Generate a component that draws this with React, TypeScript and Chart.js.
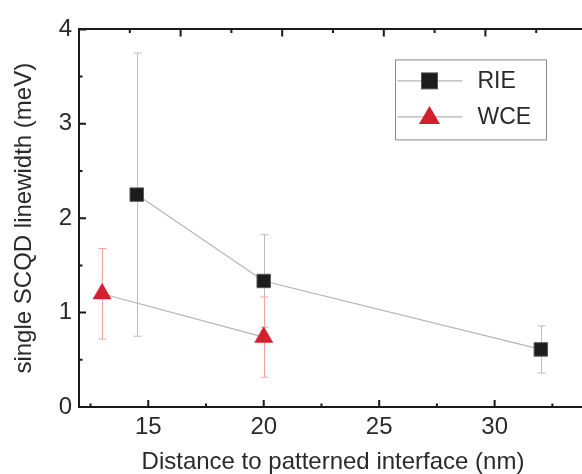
import React, { useEffect, useRef } from 'react';
import { Chart, registerables } from 'chart.js';
Chart.register(...registerables);

const seriesNames = ['RIE', 'WCE'];
const rieX = [14.5, 20, 32];
const rieY = [2.25, 1.335, 0.61];
const rieErr = [1.5, 0.49, 0.25];
const wceX = [13, 20];
const wceY = [1.2, 0.74];
const wceErr = [0.48, 0.425];
const xMajorTicks = [15, 20, 25, 30];
const xMinorTicks = [12.5, 17.5, 22.5, 27.5, 32.5];
const yMajorTicks = [0, 1, 2, 3, 4];
const yMinorTicks = [0.5, 1.5, 2.5, 3.5];
const topMajorTicks = [0, 2, 4, 6];
const topMinorTicks = [-1, 1, 3, 5, 7];
const xTitle = 'Distance to patterned interface (nm)';
const yTitle = 'single SCQD linewidth (meV)';

const FONT = "'Liberation Sans', Arial, sans-serif";
const TEXT = '#2a2a2a';
const AXIS = '#1a1a1a';
const RIE_FILL = '#1c1c1c';
const WCE_FILL = '#d3202e';
const LINE = '#b5b5b5';

const errorBars = {
  id: 'errorBars',
  beforeDatasetsDraw(chart: any) {
    const { ctx, scales } = chart;
    const x = scales.x, y = scales.y;
    const sets = [
      { xs: rieX, ys: rieY, es: rieErr, color: '#bdbdbd' },
      { xs: wceX, ys: wceY, es: wceErr, color: '#f2a697' },
    ];
    ctx.save();
    ctx.lineWidth = 1;
    for (const s of sets) {
      ctx.strokeStyle = s.color;
      s.xs.forEach((xv, i) => {
        const px = Math.round(x.getPixelForValue(xv)) + 0.5;
        const t = y.getPixelForValue(s.ys[i] + s.es[i]);
        const b = y.getPixelForValue(s.ys[i] - s.es[i]);
        ctx.beginPath();
        ctx.moveTo(px, t); ctx.lineTo(px, b);
        ctx.moveTo(px - 4, t); ctx.lineTo(px + 4, t);
        ctx.moveTo(px - 4, b); ctx.lineTo(px + 4, b);
        ctx.stroke();
      });
    }
    ctx.restore();
  },
};

const tickMarks = {
  id: 'tickMarks',
  afterDraw(chart: any) {
    const { ctx, scales, chartArea } = chart;
    const x = scales.x, y = scales.y, xt = scales.xTop;
    ctx.save();
    ctx.strokeStyle = AXIS;
    ctx.lineWidth = 2;
    ctx.beginPath();
    xMajorTicks.forEach(v => { const p = x.getPixelForValue(v); ctx.moveTo(p, chartArea.bottom); ctx.lineTo(p, chartArea.bottom - 7); });
    xMinorTicks.forEach(v => { const p = x.getPixelForValue(v); ctx.moveTo(p, chartArea.bottom); ctx.lineTo(p, chartArea.bottom - 3.5); });
    yMajorTicks.forEach(v => { const p = y.getPixelForValue(v); ctx.moveTo(chartArea.left, p); ctx.lineTo(chartArea.left + 7, p); });
    yMinorTicks.forEach(v => { const p = y.getPixelForValue(v); ctx.moveTo(chartArea.left, p); ctx.lineTo(chartArea.left + 3.5, p); });
    topMajorTicks.forEach(v => { const p = xt.getPixelForValue(v); ctx.moveTo(p, chartArea.top); ctx.lineTo(p, chartArea.top + 7); });
    topMinorTicks.forEach(v => { const p = xt.getPixelForValue(v); ctx.moveTo(p, chartArea.top); ctx.lineTo(p, chartArea.top + 3.5); });
    ctx.stroke();
    ctx.restore();
  },
};

const legendBox = {
  id: 'legendBox',
  afterDraw(chart: any) {
    const { ctx, chartArea } = chart;
    const bx = chartArea.left + 316.5, by = chartArea.top + 30.5, bw = 151, bh = 80;
    ctx.save();
    ctx.fillStyle = '#ffffff';
    ctx.fillRect(bx, by, bw, bh);
    ctx.strokeStyle = '#8a8a8a';
    ctx.lineWidth = 1;
    ctx.strokeRect(bx, by, bw, bh);
    const rows = [by + 21, by + 57];
    const mx = bx + 34;
    rows.forEach((ry, i) => {
      ctx.strokeStyle = LINE;
      ctx.lineWidth = 1.2;
      ctx.beginPath();
      ctx.moveTo(bx + 2, ry); ctx.lineTo(bx + 67, ry);
      ctx.stroke();
      if (i === 0) {
        ctx.fillStyle = RIE_FILL;
        ctx.fillRect(mx - 8, ry - 8, 16, 16);
        ctx.strokeStyle = '#555';
        ctx.lineWidth = 1;
        ctx.strokeRect(mx - 8, ry - 8, 16, 16);
      } else {
        ctx.fillStyle = WCE_FILL;
        ctx.beginPath();
        ctx.moveTo(mx, ry - 11);
        ctx.lineTo(mx + 10.5, ry + 7);
        ctx.lineTo(mx - 10.5, ry + 7);
        ctx.closePath();
        ctx.fill();
      }
      ctx.fillStyle = TEXT;
      ctx.font = `23px ${FONT}`;
      ctx.textBaseline = 'middle';
      ctx.textAlign = 'left';
      ctx.fillText(seriesNames[i], bx + 82, ry + 0.5);
    });
    ctx.restore();
  },
};

export default function App() {
  const ref = useRef<HTMLCanvasElement>(null);
  useEffect(() => {
    const chart = new Chart(ref.current as HTMLCanvasElement, {
      type: 'scatter',
      data: {
        datasets: [
          {
            label: seriesNames[0],
            data: rieX.map((x, i) => ({ x, y: rieY[i] })),
            showLine: true,
            borderColor: LINE,
            borderWidth: 1.2,
            pointStyle: 'rect',
            pointRadius: 9.5,
            pointBackgroundColor: RIE_FILL,
            pointBorderColor: '#555',
            pointBorderWidth: 1,
            xAxisID: 'x',
            yAxisID: 'y',
          },
          {
            label: seriesNames[1],
            data: wceX.map((x, i) => ({ x, y: wceY[i] })),
            showLine: true,
            borderColor: LINE,
            borderWidth: 1.2,
            pointStyle: 'triangle',
            pointRadius: 10.5,
            pointBackgroundColor: WCE_FILL,
            pointBorderColor: WCE_FILL,
            pointBorderWidth: 0.5,
            xAxisID: 'x',
            yAxisID: 'y',
          },
        ],
      } as any,
      options: {
        responsive: false,
        animation: false,
        devicePixelRatio: 1,
        layout: { padding: { left: 0, right: 9, top: 0, bottom: 0 } },
        plugins: { legend: { display: false }, tooltip: { enabled: false } },
        scales: {
          x: {
            type: 'linear',
            position: 'bottom',
            min: 12,
            max: 34,
            afterBuildTicks: (s: any) => { s.ticks = xMajorTicks.map(v => ({ value: v })); },
            afterFit: (s: any) => { s.height = 71; },
            grid: { display: false, drawTicks: false },
            border: { display: true, width: 2, color: AXIS },
            ticks: { padding: 6, font: { family: FONT, size: 24 }, color: TEXT, maxRotation: 0, autoSkip: false },
            title: { display: true, text: xTitle, font: { family: FONT, size: 24 }, color: TEXT, padding: { top: 0, bottom: 1 } },
          },
          xTop: {
            type: 'linear',
            position: 'top',
            min: -2,
            max: 8,
            afterFit: (s: any) => { s.height = 20; },
            grid: { display: false, drawTicks: false },
            border: { display: true, width: 2, color: AXIS },
            ticks: { display: false },
          },
          y: {
            type: 'linear',
            position: 'left',
            min: 0,
            max: 4,
            afterBuildTicks: (s: any) => { s.ticks = yMajorTicks.map(v => ({ value: v })); },
            afterFit: (s: any) => { s.width = 71; },
            grid: { display: false, drawTicks: false },
            border: { display: true, width: 2, color: AXIS },
            ticks: { padding: 7, font: { family: FONT, size: 24 }, color: TEXT },
            title: { display: true, text: yTitle, font: { family: FONT, size: 24 }, color: TEXT, padding: { top: 2, bottom: 0 } },
          },
        } as any,
      },
      plugins: [errorBars, tickMarks, legendBox],
    });
    return () => chart.destroy();
  }, []);
  return (
    <div style={{ position: 'fixed', left: 0, top: 0, width: 582, height: 474, overflow: 'hidden', background: '#fff' }}>
      <style>{'html,body{overflow:hidden;}'}</style>
      <canvas
        ref={ref}
        width={590}
        height={470}
        style={{ position: 'absolute', left: 8, top: 8, display: 'block', width: 590, height: 470 }}
      />
    </div>
  );
}
